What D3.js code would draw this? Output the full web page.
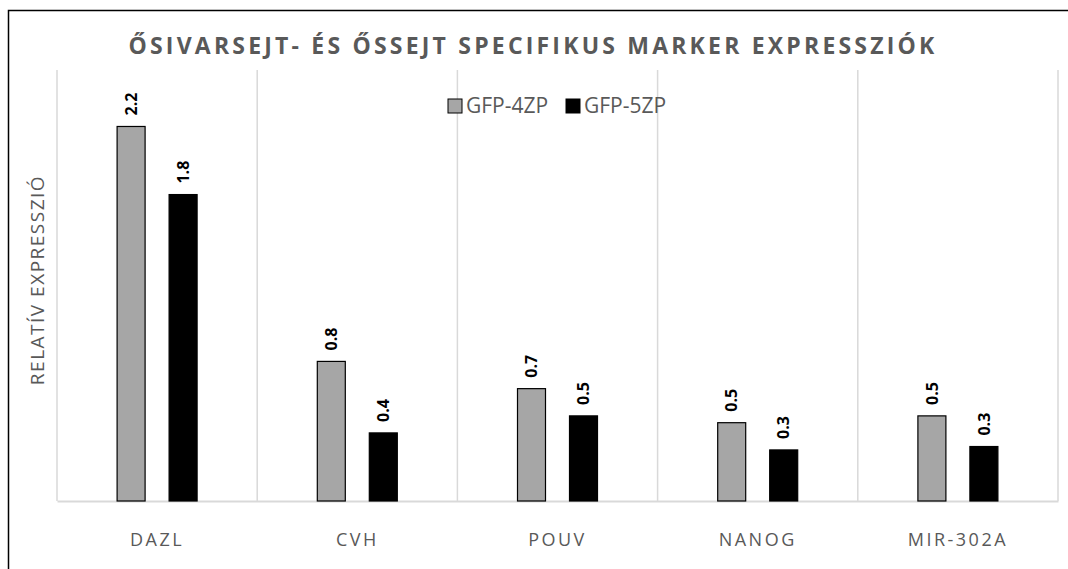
<!DOCTYPE html>
<html>
<head>
<meta charset="utf-8">
<script src="https://cdn.jsdelivr.net/npm/d3@7"></script>
<style>
  body { margin: 0; background: #fff; }
  text { font-family: "Open Sans", "Noto Sans", sans-serif; }
</style>
</head>
<body>
<div id="body"></div>
<script>
// chart data
const categories = ["DAZL", "CVH", "POUV", "NANOG", "MIR-302A"];
const seriesNames = ["GFP-4ZP", "GFP-5ZP"];
const gfp4 = [2.2, 0.82, 0.66, 0.46, 0.5];
const gfp5 = [1.8, 0.4, 0.5, 0.3, 0.32];
const colors = ["#a6a6a6", "#000000"];

let width = 1068,
  height = 569;

let svg = d3
  .select("#body")
  .append("svg")
  .attr("width", width)
  .attr("height", height);

// outer frame (right/bottom edges fall outside the picture)
svg
  .append("rect")
  .attr("x", 8.5)
  .attr("y", 10.5)
  .attr("width", 1200)
  .attr("height", 700)
  .style("fill", "none")
  .style("stroke", "#000")
  .style("stroke-width", 1.5);

let plot = { left: 57, right: 1058, top: 72, bottom: 501 };

let x = d3
  .scaleBand()
  .domain(categories)
  .range([plot.left, plot.right]);

let y = d3
  .scaleLinear()
  .domain([0, 2.52])
  .range([plot.bottom, plot.top]);

// vertical separators between categories
let seps = d3.range(categories.length + 1).map((i) => plot.left + i * x.bandwidth());
svg
  .selectAll(".sep")
  .data(seps)
  .enter()
  .append("line")
  .attr("class", "sep")
  .attr("x1", (d) => d)
  .attr("x2", (d) => d)
  .attr("y1", plot.top - 2)
  .attr("y2", plot.bottom)
  .style("stroke", "#d9d9d9")
  .style("stroke-width", 1.5);

// x axis
let xAxis = svg
  .append("g")
  .attr("transform", "translate(0," + plot.bottom + ")")
  .call(d3.axisBottom(x).tickSize(0).tickPadding(32));
xAxis.select(".domain").style("stroke", "#d9d9d9").style("stroke-width", 2);
xAxis
  .selectAll("text")
  .style("font-family", "'Open Sans', sans-serif")
  .style("font-size", "18px")
  .style("letter-spacing", "2.5px")
  .style("fill", "#595959");

// bars
let barW = 28,
  gap = 24;
let rows = categories.map((c, i) => ({ cat: c, vals: [gfp4[i], gfp5[i]] }));

let groups = svg
  .selectAll(".cat")
  .data(rows)
  .enter()
  .append("g")
  .attr("class", "cat")
  .attr("transform", (d) => "translate(" + (x(d.cat) + x.bandwidth() / 2) + ",0)");

groups
  .selectAll("rect")
  .data((d) => d.vals)
  .enter()
  .append("rect")
  .attr("x", (d, i) => (i == 0 ? -gap / 2 - barW : gap / 2))
  .attr("y", (d) => y(d))
  .attr("width", barW)
  .attr("height", (d) => y(0) - y(d))
  .style("fill", (d, i) => colors[i])
  .style("stroke", "#000")
  .style("stroke-width", 1.2);

// value labels, rotated
groups
  .selectAll(".val")
  .data((d) => d.vals)
  .enter()
  .append("text")
  .attr("class", "val")
  .attr("transform", function(d, i) {
    let cx = i == 0 ? -gap / 2 - barW / 2 : gap / 2 + barW / 2;
    return "translate(" + cx + "," + (y(d) - 11) + ") rotate(-90)";
  })
  .attr("dy", ".35em")
  .style("font-size", "16px")
  .style("font-weight", "bold")
  .style("fill", "#000")
  .text((d) => d3.format(".1f")(d));

// title
svg
  .append("text")
  .attr("x", 533)
  .attr("y", 54)
  .attr("text-anchor", "middle")
  .style("font-size", "23px")
  .style("font-weight", "bold")
  .style("letter-spacing", "3.2px")
  .style("fill", "#595959")
  .text("ŐSIVARSEJT- ÉS ŐSSEJT SPECIFIKUS MARKER EXPRESSZIÓK");

// y axis title
svg
  .append("text")
  .attr("transform", "translate(44,280) rotate(-90)")
  .attr("text-anchor", "middle")
  .style("font-size", "19px")
  .style("letter-spacing", "1.5px")
  .style("fill", "#595959")
  .text("RELATÍV EXPRESSZIÓ");

// legend
let legendX = [448, 566];
let legend = svg
  .selectAll(".legend")
  .data(seriesNames)
  .enter()
  .append("g")
  .attr("class", "legend")
  .attr("transform", (d, i) => "translate(" + legendX[i] + ",99)");

legend
  .append("rect")
  .attr("width", 14)
  .attr("height", 14)
  .style("fill", (d, i) => colors[i])
  .style("stroke", "#000")
  .style("stroke-width", 1);

legend
  .append("text")
  .attr("x", 18)
  .attr("y", 7)
  .attr("dy", ".35em")
  .style("font-size", "21px")
  .style("fill", "#595959")
  .text((d) => d);
</script>
</body>
</html>
